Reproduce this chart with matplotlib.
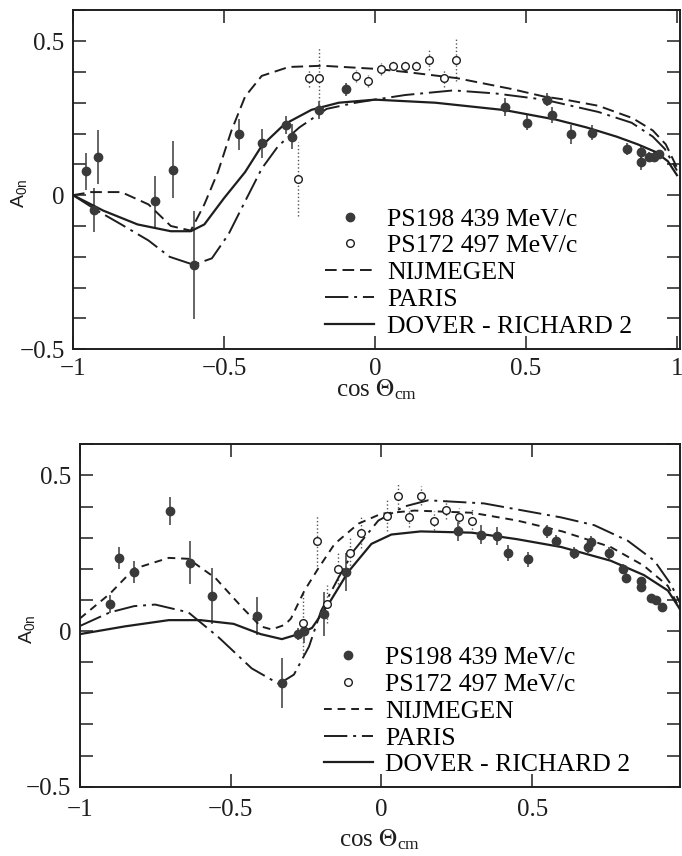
import numpy as np
import matplotlib
matplotlib.use("Agg")
import matplotlib.pyplot as plt
from matplotlib.ticker import MultipleLocator, FixedLocator

plt.rcParams['font.family'] = ['Liberation Serif', 'DejaVu Serif']
plt.rcParams['mathtext.fontset'] = 'stix'

INK = "#1e1e1e"
DOT = "#3a3a3a"

# ---- upper panel (439 / 497 MeV/c) ----
top_nij_x = [-1.0, -0.94, -0.84, -0.75, -0.676, -0.61, -0.565, -0.52, -0.475, -0.43, -0.375,
             -0.285, -0.174, 0.0, 0.1, 0.27, 0.45, 0.56, 0.63, 0.74, 0.853, 0.92, 0.963, 1.0]
top_nij_y = [0.0, 0.01, 0.01, -0.03, -0.1, -0.115, -0.03, 0.075, 0.21, 0.32, 0.387,
             0.416, 0.42, 0.41, 0.40, 0.38, 0.345, 0.32, 0.31, 0.29, 0.25, 0.21, 0.165, 0.09]

top_par_x = [-1.0, -0.92, -0.84, -0.75, -0.68, -0.6, -0.54, -0.485, -0.43, -0.375, -0.32,
             -0.25, -0.16, -0.064, 0.0, 0.1, 0.26, 0.4, 0.56, 0.65, 0.74, 0.85, 0.92, 0.96, 1.0]
top_par_y = [0.0, -0.05, -0.095, -0.147, -0.2, -0.226, -0.205, -0.127, -0.02, 0.086, 0.16,
             0.22, 0.28, 0.30, 0.31, 0.325, 0.34, 0.33, 0.31, 0.29, 0.27, 0.235, 0.19, 0.15, 0.08]

top_dr_x = [-1.0, -0.9, -0.786, -0.676, -0.61, -0.565, -0.5, -0.43, -0.375, -0.3, -0.21,
            -0.12, 0.0, 0.2, 0.43, 0.6, 0.7, 0.8, 0.87, 0.93, 0.97, 1.0]
top_dr_y = [0.0, -0.05, -0.095, -0.117, -0.117, -0.095, -0.01, 0.075, 0.16, 0.23, 0.277,
            0.30, 0.31, 0.30, 0.276, 0.245, 0.22, 0.19, 0.165, 0.14, 0.11, 0.065]

top_ps198_x = [-0.957, -0.93, -0.916, -0.73, -0.67, -0.60, -0.45, -0.375, -0.295, -0.275, -0.184,
               -0.097, 0.43, 0.505, 0.57, 0.585, 0.65, 0.72, 0.835, 0.88, 0.88, 0.906, 0.923, 0.94]
top_ps198_y = [0.077, -0.048, 0.124, -0.02, 0.083, -0.226, 0.197, 0.168, 0.228, 0.19, 0.277,
               0.343, 0.286, 0.235, 0.31, 0.26, 0.197, 0.203, 0.15, 0.14, 0.108, 0.124, 0.124, 0.133]
top_ps198_e = [0.06, 0.07, 0.087, 0.082, 0.093, 0.175, 0.05, 0.048, 0.03, 0.04, 0.03,
               0.02, 0.03, 0.025, 0.02, 0.025, 0.03, 0.025, 0.02, 0.02, 0.025, 0.015, 0.015, 0.015]

top_ps172_x = [-0.254, -0.217, -0.184, -0.064, -0.023, 0.02, 0.06, 0.10, 0.137, 0.18, 0.227, 0.267]
top_ps172_y = [0.054, 0.38, 0.38, 0.387, 0.371, 0.41, 0.42, 0.42, 0.42, 0.44, 0.38, 0.44]
top_ps172_e = [0.12, 0.03, 0.10, 0.02, 0.02, 0.02, 0.015, 0.015, 0.015, 0.035, 0.03, 0.07]

# ---- lower panel ----
bot_nij_x = [-1.0, -0.9, -0.82, -0.705, -0.64, -0.55, -0.46, -0.4, -0.364, -0.32, -0.3, -0.255,
             -0.21, -0.155, -0.076, 0.0, 0.11, 0.3, 0.45, 0.6, 0.76, 0.87, 0.95, 0.99]
bot_nij_y = [0.04, 0.12, 0.2, 0.235, 0.232, 0.17, 0.074, 0.015, 0.005, 0.02, 0.04, 0.13,
             0.2, 0.28, 0.345, 0.377, 0.387, 0.38, 0.355, 0.32, 0.27, 0.21, 0.145, 0.07]

bot_par_x = [-1.0, -0.9, -0.82, -0.75, -0.64, -0.54, -0.43, -0.34, -0.29, -0.24, -0.2, -0.143,
             -0.09, -0.01, 0.076, 0.155, 0.34, 0.596, 0.706, 0.817, 0.905, 0.96, 0.99]
bot_par_y = [0.016, 0.06, 0.08, 0.085, 0.06, -0.02, -0.12, -0.17, -0.14, -0.05, 0.065, 0.17,
             0.26, 0.355, 0.40, 0.42, 0.41, 0.365, 0.34, 0.29, 0.226, 0.15, 0.09]

bot_dr_x = [-1.0, -0.85, -0.705, -0.6, -0.49, -0.4, -0.33, -0.275, -0.23, -0.175, -0.11, -0.033,
            0.033, 0.13, 0.3, 0.45, 0.596, 0.76, 0.87, 0.95, 0.99]
bot_dr_y = [-0.01, 0.015, 0.035, 0.035, 0.023, -0.01, -0.026, -0.01, 0.01, 0.087, 0.19, 0.28,
            0.31, 0.32, 0.316, 0.295, 0.27, 0.226, 0.18, 0.13, 0.07]

bot_ps198_x = [-0.9, -0.87, -0.82, -0.70, -0.635, -0.563, -0.414, -0.33, -0.275, -0.255, -0.19,
               -0.116, 0.255, 0.33, 0.385, 0.42, 0.485, 0.55, 0.58, 0.64, 0.685, 0.695, 0.755,
               0.80, 0.81, 0.86, 0.86, 0.894, 0.91, 0.93]
bot_ps198_y = [0.087, 0.235, 0.19, 0.387, 0.22, 0.113, 0.048, -0.168, -0.01, 0.0, 0.055,
               0.19, 0.32, 0.31, 0.305, 0.25, 0.23, 0.32, 0.29, 0.25, 0.27, 0.285, 0.25,
               0.2, 0.17, 0.16, 0.14, 0.107, 0.1, 0.077]
bot_ps198_e = [0.03, 0.035, 0.035, 0.045, 0.07, 0.09, 0.06, 0.08, 0.02, 0.04, 0.07,
               0.06, 0.03, 0.03, 0.03, 0.025, 0.025, 0.02, 0.02, 0.02, 0.02, 0.02, 0.02,
               0.015, 0.015, 0.01, 0.01, 0.01, 0.01, 0.01]

bot_ps172_x = [-0.26, -0.215, -0.18, -0.143, -0.105, -0.066, 0.017, 0.055, 0.09, 0.13,
               0.175, 0.215, 0.258, 0.3]
bot_ps172_y = [0.026, 0.29, 0.087, 0.2, 0.25, 0.316, 0.37, 0.435, 0.365, 0.435,
               0.355, 0.39, 0.365, 0.355]
bot_ps172_e = [0.1, 0.08, 0.06, 0.05, 0.05, 0.05, 0.05, 0.04, 0.03, 0.03,
               0.03, 0.03, 0.03, 0.04]


def draw_panel(ax, nij, par, dr, ps198, ps172, nij_dash, xmax, xticks, xpad, xlabelpad, leg_anchor):
    ax.errorbar(ps198[0], ps198[1], yerr=ps198[2], fmt="none", ecolor=DOT, elinewidth=1.1, capsize=0, zorder=2)
    eb = ax.errorbar(ps172[0], ps172[1], yerr=ps172[2], fmt="none", ecolor="#555555", elinewidth=1.0, capsize=0, zorder=2)
    eb[2][0].set_linestyle(":")
    ax.plot(ps198[0], ps198[1], "o", color=DOT, ms=6, ls="none", label="PS198 439 MeV/c", zorder=4)
    ax.plot(ps172[0], ps172[1], "o", mfc="white", mec=INK, mew=1.0, ms=5.5, ls="none",
            label="PS172 497 MeV/c", zorder=4)
    ax.plot(nij[0], nij[1], color=INK, lw=1.4, dashes=nij_dash, label="NIJMEGEN", zorder=3)
    ax.plot(par[0], par[1], color=INK, lw=1.4, dashes=(12, 3, 1.5, 3), label="PARIS", zorder=3)
    ax.plot(dr[0], dr[1], color=INK, lw=1.6, label="DOVER - RICHARD 2", zorder=3)

    ax.set_xlim(-1, xmax)
    ax.set_ylim(-0.5, 0.6)
    ax.xaxis.set_major_locator(FixedLocator(xticks))
    ax.set_xticklabels([f"{t:g}".replace("-", "\u2212") for t in xticks])
    ax.yaxis.set_major_locator(FixedLocator([-0.5, 0, 0.5]))
    ax.set_yticklabels(["\u22120.5", "0", "0.5"])
    ax.yaxis.set_minor_locator(MultipleLocator(0.1))
    ax.tick_params(which="both", direction="in", top=True, right=True, labelsize=18,
                   length=9.5, width=1.1, pad=6, colors=INK)
    ax.tick_params(axis="x", pad=xpad)
    for s in ax.spines.values():
        s.set_linewidth(1.4)
        s.set_color(INK)

    ax.set_xlabel(r"cos $\Theta_\mathregular{cm}$", fontsize=18, labelpad=xlabelpad, color=INK)
    ax.set_ylabel(r"$\mathregular{A_{0n}}$", fontsize=14, color=INK, family="Liberation Sans")
    ax.yaxis.set_label_coords(-0.072, 0.46)

    ax.legend(loc="lower left", bbox_to_anchor=leg_anchor, frameon=False, fontsize=18.5,
              handlelength=1.9, handletextpad=0.5, labelspacing=0.15, borderpad=0.2,
              borderaxespad=0.0)


fig = plt.figure(figsize=(6.82, 8.56), dpi=100)
ax1 = fig.add_axes([0.107, 0.592, 0.890, 0.396])
ax2 = fig.add_axes([0.117, 0.081, 0.880, 0.400])

draw_panel(ax1, (top_nij_x, top_nij_y), (top_par_x, top_par_y), (top_dr_x, top_dr_y),
           (top_ps198_x, top_ps198_y, top_ps198_e), (top_ps172_x, top_ps172_y, top_ps172_e),
           (6, 3), 1.01, [-1, -0.5, 0, 0.5, 1], 6, -1.5, (0.407, 0.018))
draw_panel(ax2, (bot_nij_x, bot_nij_y), (bot_par_x, bot_par_y), (bot_dr_x, bot_dr_y),
           (bot_ps198_x, bot_ps198_y, bot_ps198_e), (bot_ps172_x, bot_ps172_y, bot_ps172_e),
           (4, 3), 0.99, [-1, -0.5, 0, 0.5], 9, 5, (0.398, 0.015))

fig.savefig("out.png", dpi=100)
